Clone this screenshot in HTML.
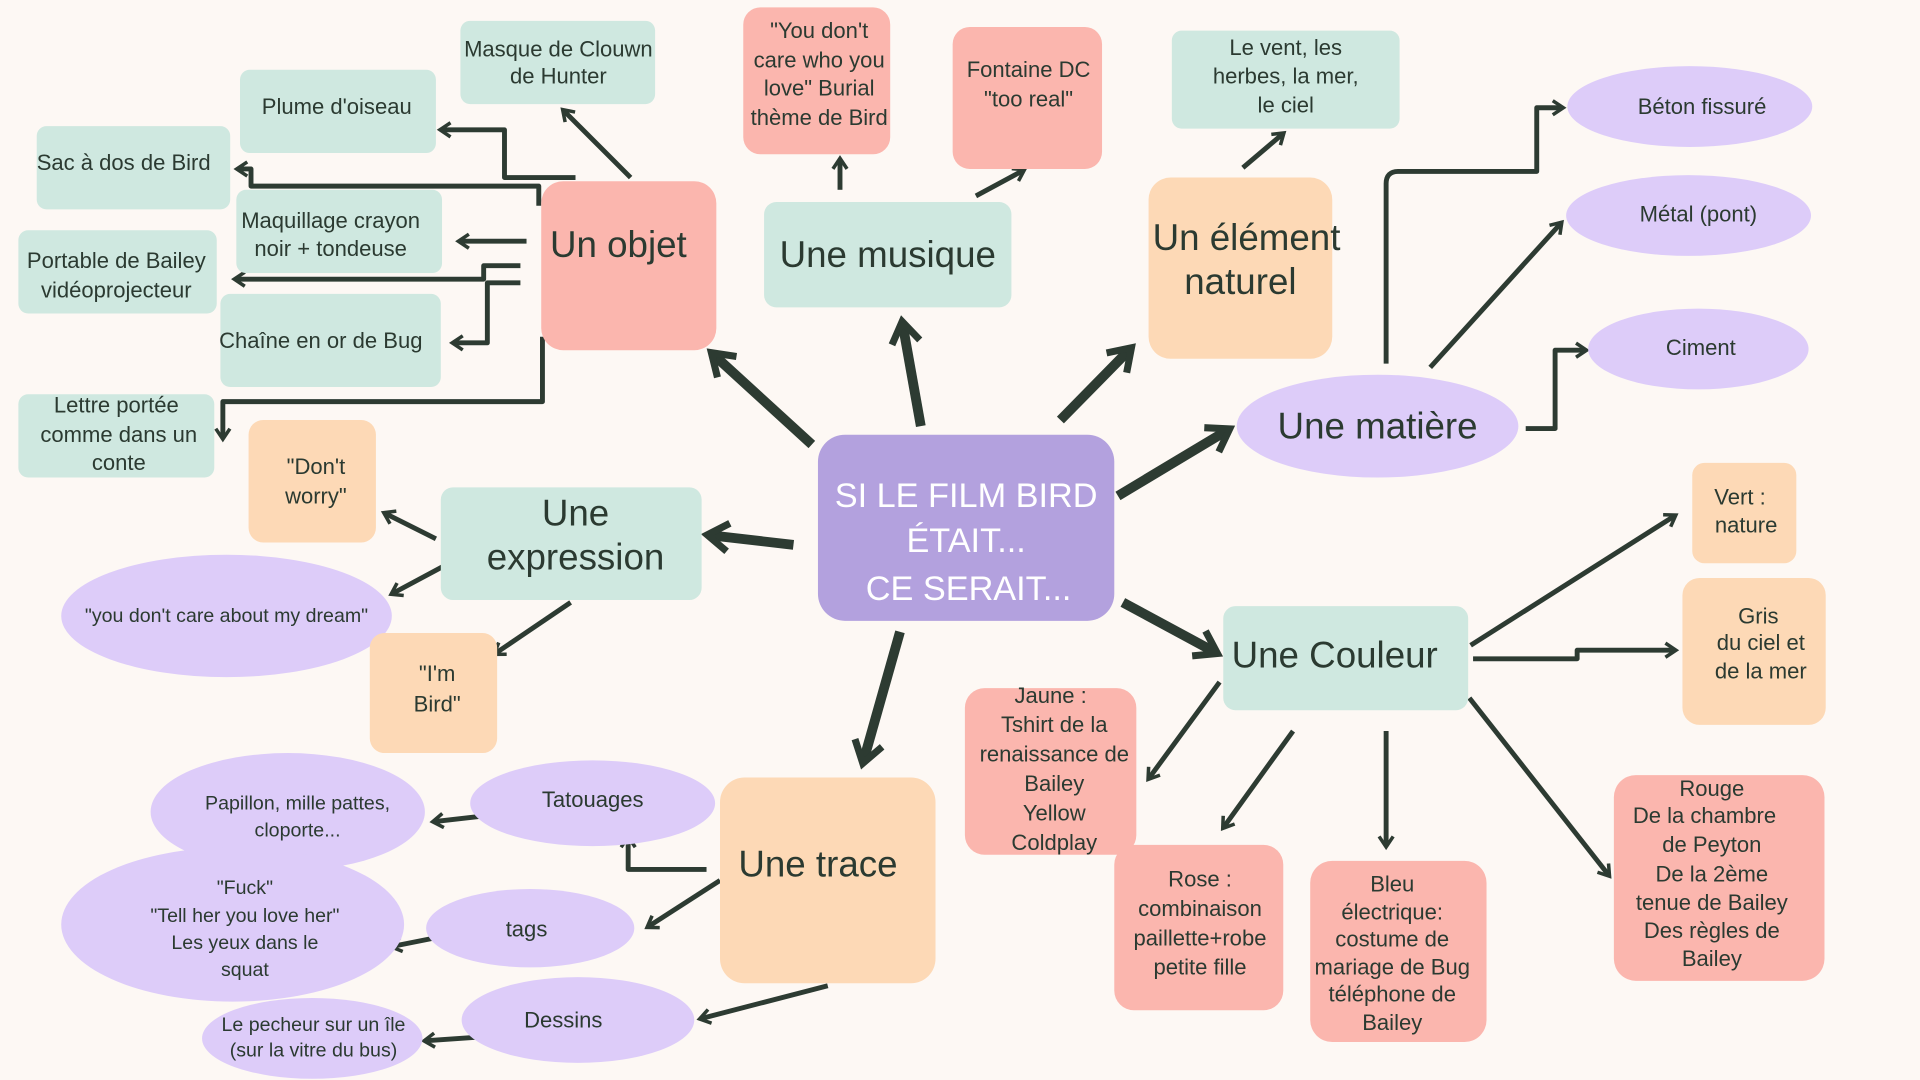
<!DOCTYPE html>
<html><head><meta charset="utf-8"><style>
html,body{margin:0;padding:0;background:#fdf8f4;}
svg{display:block;}
text{font-family:"Liberation Sans",sans-serif;fill:#2b3a31;text-anchor:middle;}
.t{fill:#cfe8e0}.p{fill:#fbb6ae}.e{fill:#fdd9b6}.l{fill:#ddccf9}
.s{font-size:18px}.b{font-size:30px}.x{font-size:16px}
.a{stroke:#2d3b32;fill:none;stroke-width:4;stroke-linejoin:round;marker-end:url(#m)}
.A{stroke:#2d3b32;fill:none;stroke-width:8;marker-end:url(#m)}
</style></head><body>
<svg width="1920" height="1080" viewBox="0 0 1568 882" xmlns="http://www.w3.org/2000/svg">
<defs><marker id="m" viewBox="0 0 10 10" refX="7" refY="5" markerWidth="3.6" markerHeight="3.6" orient="auto" markerUnits="strokeWidth">
<path d="M1.5,1 L7.5,5 L1.5,9" fill="none" stroke="#2d3b32" stroke-width="2" stroke-linejoin="miter"/></marker></defs>
<rect width="1568" height="882" fill="#fdf8f4"/>

<path class="A" d="M663,363 L582,289"/>
<path class="A" d="M752,348 L737,264"/>
<path class="A" d="M866,343 L923,285"/>
<path class="A" d="M913,405 L1003,351"/>
<path class="A" d="M648,445 L579,437"/>
<path class="A" d="M735,516 L705,622"/>
<path class="A" d="M917,492 L993,533"/>

<path class="a" d="M440,168 V152 H205 V138 H194"/>
<path class="a" d="M470,145 H412 V106 H360"/>
<path class="a" d="M515,145 L460,90"/>
<path class="a" d="M430,197 H375"/>
<path class="a" d="M425,217 H395 V228 H192"/>
<path class="a" d="M425,231 H398 V280 H370"/>
<path class="a" d="M443,275 V328 H182 V358"/>
<path class="a" d="M686,155 V130"/>
<path class="a" d="M797,160 L836,139"/>
<path class="a" d="M1015,137 L1048,109"/>
<path class="a" d="M1132,297 V150 Q1132,140 1142,140 H1255 V88 H1276"/>
<path class="a" d="M1168,300 L1275,182"/>
<path class="a" d="M1246,350 H1270 V286 H1295"/>
<path class="a" d="M1201,527 L1368,421"/>
<path class="a" d="M1203,538 H1288 V531 H1368"/>
<path class="a" d="M1200,570 L1314,715"/>
<path class="a" d="M1132,597 V691"/>
<path class="a" d="M1056,597 L999,676"/>
<path class="a" d="M996,557 L938,636"/>
<path class="a" d="M356,440 L314,419"/>
<path class="a" d="M363,462 L320,485"/>
<path class="a" d="M466,492 L404,534"/>
<path class="a" d="M577,710 H513 V684"/>
<path class="a" d="M588,719 L529,757"/>
<path class="a" d="M676,805 L572,832"/>
<path class="a" d="M398,666 L354,671"/>
<path class="a" d="M360,765 L320,773"/>
<path class="a" d="M390,847 L347,850"/>

<rect x="668" y="355" width="242" height="152" rx="22" fill="#b3a1de"/>
<text x="789" y="414" style="font-size:28px;fill:#fff">SI LE FILM BIRD</text>
<text x="789" y="451" style="font-size:28px;fill:#fff">ÉTAIT...</text>
<text x="791" y="490" style="font-size:28px;fill:#fff">CE SERAIT...</text>

<rect class="p" x="442" y="148" width="143" height="138" rx="18"/>
<text class="b" x="505" y="210">Un objet</text>
<rect class="t" x="624" y="165" width="202" height="86" rx="10"/>
<text class="b" x="725" y="218">Une musique</text>
<rect class="e" x="938" y="145" width="150" height="148" rx="18"/>
<text class="b" x="1018" y="204">Un élément</text>
<text class="b" x="1013" y="240">naturel</text>
<ellipse class="l" cx="1125" cy="348" rx="115" ry="42"/>
<text class="b" x="1125" y="358">Une matière</text>
<rect class="t" x="360" y="398" width="213" height="92" rx="10"/>
<text class="b" x="470" y="429">Une</text>
<text class="b" x="470" y="465">expression</text>
<rect class="e" x="588" y="635" width="176" height="168" rx="20"/>
<text class="b" x="668" y="716">Une trace</text>
<rect class="t" x="999" y="495" width="200" height="85" rx="10"/>
<text class="b" x="1090" y="545">Une Couleur</text>

<rect class="t" x="376" y="17" width="159" height="68" rx="8"/>
<text class="s" x="456" y="46">Masque de Clouwn</text><text class="s" x="456" y="68">de Hunter</text>
<rect class="t" x="196" y="57" width="160" height="68" rx="8"/>
<text class="s" x="275" y="93">Plume d'oiseau</text>
<rect class="t" x="30" y="103" width="158" height="68" rx="8"/>
<text class="s" x="101" y="139">Sac à dos de Bird</text>
<rect class="t" x="193" y="155" width="168" height="68" rx="8"/>
<text class="s" x="270" y="186">Maquillage crayon</text><text class="s" x="270" y="209">noir + tondeuse</text>
<rect class="t" x="15" y="188" width="162" height="68" rx="8"/>
<text class="s" x="95" y="219">Portable de Bailey</text><text class="s" x="95" y="243">vidéoprojecteur</text>
<rect class="t" x="180" y="240" width="180" height="76" rx="8"/>
<text class="s" x="262" y="284">Chaîne en or de Bug</text>
<rect class="t" x="15" y="322" width="160" height="68" rx="8"/>
<text class="s" x="95" y="337">Lettre portée</text><text class="s" x="97" y="361">comme dans un</text><text class="s" x="97" y="384">conte</text>

<rect class="p" x="607" y="6" width="120" height="120" rx="14"/>
<text class="s" x="669" y="31">"You don't</text><text class="s" x="669" y="55">care who you</text><text class="s" x="669" y="78">love" Burial</text><text class="s" x="669" y="102">thème de Bird</text>
<rect class="p" x="778" y="22" width="122" height="116" rx="14"/>
<text class="s" x="840" y="63">Fontaine DC</text><text class="s" x="840" y="87">"too real"</text>
<rect class="t" x="957" y="25" width="186" height="80" rx="8"/>
<text class="s" x="1050" y="45">Le vent, les</text><text class="s" x="1050" y="68">herbes, la mer,</text><text class="s" x="1050" y="92">le ciel</text>

<ellipse class="l" cx="1380" cy="87" rx="100" ry="33"/><text class="s" x="1390" y="93">Béton fissuré</text>
<ellipse class="l" cx="1379" cy="176" rx="100" ry="33"/><text class="s" x="1387" y="181">Métal (pont)</text>
<ellipse class="l" cx="1387" cy="285" rx="90" ry="33"/><text class="s" x="1389" y="290">Ciment</text>

<rect class="e" x="1382" y="378" width="85" height="82" rx="10"/>
<text class="s" x="1421" y="412">Vert :</text><text class="s" x="1426" y="435">nature</text>
<rect class="e" x="1374" y="472" width="117" height="120" rx="14"/>
<text class="s" x="1436" y="509">Gris</text><text class="s" x="1438" y="531">du ciel et</text><text class="s" x="1438" y="554">de la mer</text>
<rect class="p" x="1318" y="633" width="172" height="168" rx="18"/>
<text class="s" x="1398" y="650">Rouge</text><text class="s" x="1392" y="672">De la chambre</text><text class="s" x="1398" y="696">de Peyton</text><text class="s" x="1398" y="720">De la 2ème</text><text class="s" x="1398" y="743">tenue de Bailey</text><text class="s" x="1398" y="766">Des règles de</text><text class="s" x="1398" y="789">Bailey</text>
<rect class="p" x="1070" y="703" width="144" height="148" rx="18"/>
<text class="s" x="1137" y="728">Bleu</text><text class="s" x="1137" y="751">électrique:</text><text class="s" x="1137" y="773">costume de</text><text class="s" x="1137" y="796">mariage de Bug</text><text class="s" x="1137" y="818">téléphone de</text><text class="s" x="1137" y="841">Bailey</text>
<rect class="p" x="910" y="690" width="138" height="135" rx="16"/>
<text class="s" x="980" y="724">Rose :</text><text class="s" x="980" y="748">combinaison</text><text class="s" x="980" y="772">paillette+robe</text><text class="s" x="980" y="796">petite fille</text>
<rect class="p" x="788" y="562" width="140" height="136" rx="16"/>
<text class="s" x="858" y="574">Jaune :</text><text class="s" x="861" y="598">Tshirt de la</text><text class="s" x="861" y="622">renaissance de</text><text class="s" x="861" y="646">Bailey</text><text class="s" x="861" y="670">Yellow</text><text class="s" x="861" y="694">Coldplay</text>

<rect class="e" x="203" y="343" width="104" height="100" rx="12"/>
<text class="s" x="258" y="387">"Don't</text><text class="s" x="258" y="411">worry"</text>
<ellipse class="l" cx="185" cy="503" rx="135" ry="50"/>
<text class="x" x="185" y="508">"you don't care about my dream"</text>
<rect class="e" x="302" y="517" width="104" height="98" rx="12"/>
<text class="s" x="357" y="556">"I'm</text><text class="s" x="357" y="581">Bird"</text>

<ellipse class="l" cx="484" cy="656" rx="100" ry="35"/><text class="s" x="484" y="659">Tatouages</text>
<ellipse class="l" cx="235" cy="663" rx="112" ry="48"/>
<text class="x" x="243" y="661">Papillon, mille pattes,</text><text class="x" x="243" y="683">cloporte...</text>
<ellipse class="l" cx="190" cy="755" rx="140" ry="63"/>
<text class="x" x="200" y="730">"Fuck"</text><text class="x" x="200" y="753">"Tell her you love her"</text><text class="x" x="200" y="775">Les yeux dans le</text><text class="x" x="200" y="797">squat</text>
<ellipse class="l" cx="433" cy="758" rx="85" ry="32"/><text class="s" x="430" y="765">tags</text>
<ellipse class="l" cx="472" cy="833" rx="95" ry="35"/><text class="s" x="460" y="839">Dessins</text>
<ellipse class="l" cx="255" cy="848" rx="90" ry="33"/>
<text class="x" x="256" y="842">Le pecheur sur un île</text><text class="x" x="256" y="863">(sur la vitre du bus)</text>
</svg>
</body></html>
